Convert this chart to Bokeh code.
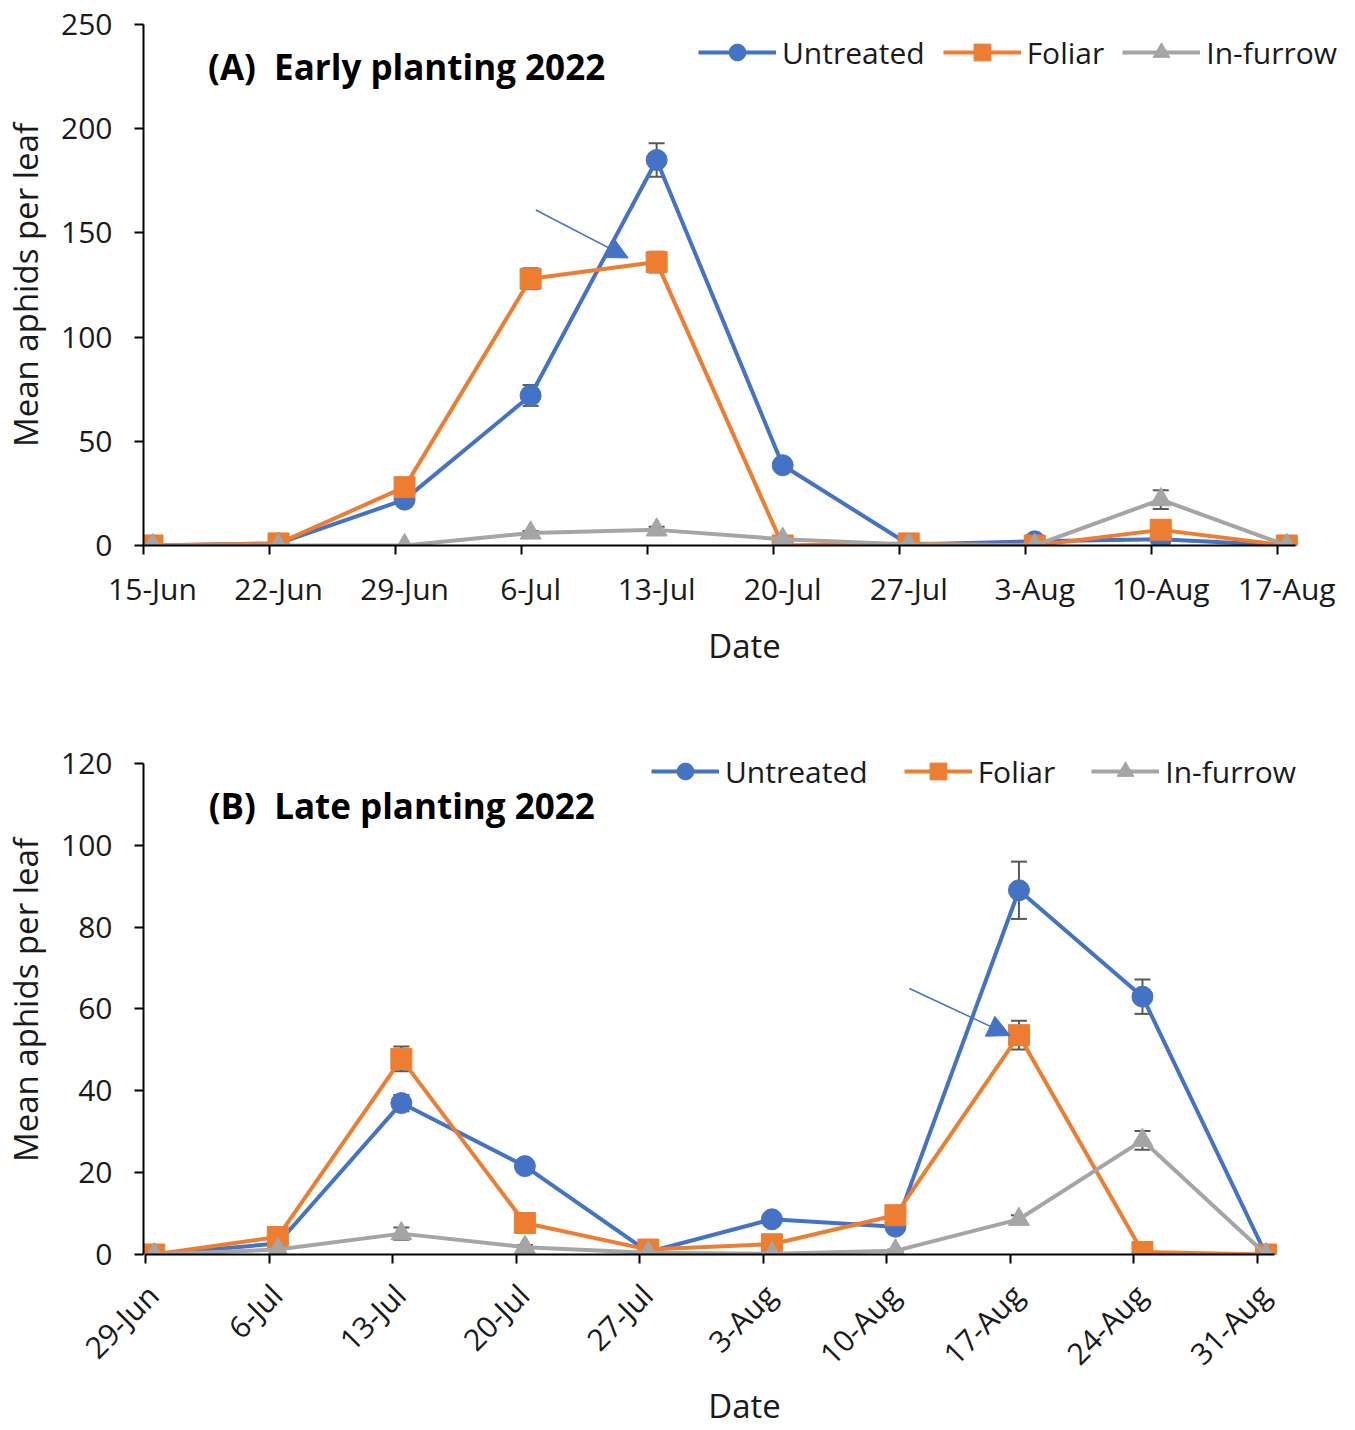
import math
import pandas as pd
from bokeh.plotting import figure
from bokeh.layouts import column
from bokeh.models import (ColumnDataSource, Range1d, FixedTicker, Whisker, TeeHead,
                          Arrow, NormalHead, Label, Legend, LegendItem, DatetimeAxis)
from bokeh.embed import file_html
from bokeh.resources import INLINE

# ---------------- data ----------------
dates_a = ["2022-06-15", "2022-06-22", "2022-06-29", "2022-07-06", "2022-07-13",
           "2022-07-20", "2022-07-27", "2022-08-03", "2022-08-10", "2022-08-17"]
ticks_a = ["15-Jun", "22-Jun", "29-Jun", "6-Jul", "13-Jul", "20-Jul", "27-Jul",
           "3-Aug", "10-Aug", "17-Aug"]
untreated_a = [0, 1, 22, 72, 185, 38.5, 0.5, 2, 3, 0]
untreated_a_se = [0, 0.5, 1.5, 5, 8, 1.5, 0.3, 0.5, 1, 0]
foliar_a = [0, 1, 28, 128, 136, 0, 1, 0, 7.5, 0]
foliar_a_se = [0, 0.5, 1.5, 5, 5, 0.3, 0.5, 0.3, 1.5, 0]
infurrow_a = [0, 0, 0, 6, 7.5, 3, 0.5, 0, 22, 0]
infurrow_a_se = [0, 0, 0, 1, 1.5, 0.5, 0, 0, 4.5, 0]

dates_b = ["2022-06-29", "2022-07-06", "2022-07-13", "2022-07-20", "2022-07-27",
           "2022-08-03", "2022-08-10", "2022-08-17", "2022-08-24", "2022-08-31"]
ticks_b = ["29-Jun", "6-Jul", "13-Jul", "20-Jul", "27-Jul", "3-Aug", "10-Aug",
           "17-Aug", "24-Aug", "31-Aug"]
untreated_b = [0, 2.7, 37, 21.6, 0.6, 8.6, 6.8, 89, 63, 0]
untreated_b_se = [0, 0.5, 2, 1.5, 0.3, 1, 1, 7, 4.2, 0]
foliar_b = [0, 4.3, 47.8, 7.7, 1.2, 2.5, 9.6, 53.6, 0.6, 0]
foliar_b_se = [0, 0.7, 3, 1, 0.3, 0.5, 1, 3.5, 0.3, 0]
infurrow_b = [0, 1.2, 5.1, 1.8, 0.4, 0.2, 0.9, 8.6, 27.9, 0]
infurrow_b_se = [0, 0.3, 1.5, 0.5, 0.1, 0.1, 0.3, 1, 2.3, 0]

series_names = ["Untreated", "Foliar", "In-furrow"]
colors = ["#4472C4", "#ED7D31", "#A5A5A5"]
markers = ["circle", "square", "triangle"]

FONT = "Open Sans"
WIDTH = 1350
FRAME_LEFT = 142
FRAME_RIGHT = 1345
TEXT = "#1a1a1a"


def ms(ts):
    return pd.Timestamp(ts).value / 1e6


def make_panel(dates, ticks, series, errs, ymax, ystep, title, title_pos, arrow,
               height, top_border, frame_h, px_per_unit, px_per_day, axis_offset_px,
               legend_loc, legend_glyph_w, legend_spacing, rotate, label_shift_h):
    x_pos = [pd.Timestamp(d) + pd.Timedelta(hours=12) for d in dates]
    first = pd.Timestamp(dates[0])
    last_end = pd.Timestamp(dates[-1]) + pd.Timedelta(days=1)
    x_start = first - pd.Timedelta(days=axis_offset_px / px_per_day)
    x_end = x_start + pd.Timedelta(days=(FRAME_RIGHT - FRAME_LEFT) / px_per_day)
    y_end = frame_h / px_per_unit
    bottom_border = height - top_border - frame_h
    p = figure(width=WIDTH, height=height, x_axis_type=None,
               x_range=Range1d(x_start, x_end), y_range=Range1d(0, y_end),
               output_backend="svg", toolbar_location=None,
               min_border_left=FRAME_LEFT, min_border_right=WIDTH - FRAME_RIGHT,
               min_border_top=top_border, min_border_bottom=bottom_border)
    p.outline_line_color = None
    p.grid.visible = False
    p.background_fill_color = "white"
    p.border_fill_color = "white"

    # labels centred on each sampling day (major ticks, hidden);
    # visible tick marks at the day boundaries (minor ticks)
    tick_ms = [ms(d) for d in dates]
    lab_ms = [ms(pd.Timestamp(d) + pd.Timedelta(hours=label_shift_h)) for d in dates]
    ax = DatetimeAxis(ticker=FixedTicker(ticks=lab_ms, minor_ticks=tick_ms),
                      bounds=(first, last_end),
                      axis_line_color="black", axis_line_width=2,
                      major_tick_line_color=None, major_tick_in=0, major_tick_out=0,
                      minor_tick_line_color="black", minor_tick_line_width=2,
                      minor_tick_in=0, minor_tick_out=9,
                      major_label_overrides={t: lab for t, lab in zip(lab_ms, ticks)},
                      major_label_text_font=FONT, major_label_text_font_size="30px",
                      major_label_text_color=TEXT,
                      axis_label="Date", axis_label_text_font=FONT,
                      axis_label_text_font_size="33px",
                      axis_label_text_font_style="normal",
                      axis_label_text_color=TEXT)
    if rotate:
        ax.major_label_orientation = math.pi / 4
        ax.major_label_standoff = 26
        ax.axis_label_standoff = -8
    else:
        ax.major_label_standoff = 13
        ax.axis_label_standoff = 11
    p.add_layout(ax, "below")

    p.yaxis.ticker = FixedTicker(ticks=list(range(0, ymax + 1, ystep)))
    p.yaxis.bounds = (0, ymax)
    ay = p.yaxis[0]
    ay.axis_line_color = "black"
    ay.axis_line_width = 2
    ay.major_tick_line_color = "black"
    ay.major_tick_line_width = 2
    ay.major_tick_in = 0
    ay.major_tick_out = 9
    ay.minor_tick_line_color = None
    ay.major_label_text_font = FONT
    ay.major_label_text_font_size = "30px"
    ay.major_label_text_color = TEXT
    ay.axis_label = "Mean aphids per leaf"
    ay.axis_label_text_font = FONT
    ay.axis_label_text_font_size = "33px"
    ay.axis_label_text_font_style = "normal"
    ay.axis_label_text_color = TEXT
    ay.major_label_standoff = 22
    ay.axis_label_standoff = 10

    items = []
    for name, col, mk, vals, se in zip(series_names, colors, markers, series, errs):
        src = ColumnDataSource(dict(x=x_pos, y=vals,
                                    upper=[v + e for v, e in zip(vals, se)],
                                    lower=[max(v - e, 0) for v, e in zip(vals, se)]))
        w = Whisker(base="x", upper="upper", lower="lower", source=src,
                    dimension="height", line_color="#595959", line_width=2,
                    upper_head=TeeHead(size=16, line_color="#595959", line_width=2),
                    lower_head=TeeHead(size=16, line_color="#595959", line_width=2))
        p.add_layout(w)
        lr = p.line("x", "y", source=src, line_color=col, line_width=4)
        sr = p.scatter("x", "y", source=src, marker=mk, size=21,
                       fill_color=col, line_color=col)
        items.append(LegendItem(label=name, renderers=[lr, sr]))

    leg = Legend(items=items, location=legend_loc, orientation="horizontal",
                 background_fill_alpha=0, border_line_color=None, padding=0,
                 glyph_width=legend_glyph_w, glyph_height=42, label_height=42,
                 label_standoff=6, spacing=legend_spacing,
                 label_text_font=FONT, label_text_font_size="30px",
                 label_text_color=TEXT)
    p.add_layout(leg)

    tx, ty = title_pos
    p.add_layout(Label(x=ms(tx), y=ty, text=title, text_font=FONT,
                       text_font_size="35px", text_font_style="bold",
                       text_baseline="middle", text_align="left",
                       text_color="black"))

    (ax0, ay0), (ax1_, ay1) = arrow
    p.add_layout(Arrow(x_start=ms(ax0), y_start=ay0, x_end=ms(ax1_), y_end=ay1,
                       line_color="#4472C4", line_width=1.5,
                       end=NormalHead(size=22, fill_color="#4472C4",
                                      line_color="#4472C4")))
    return p


# panel A: page y 0..690, frame 24..545; 250 units span 521 px
pa = make_panel(dates_a, ticks_a, [untreated_a, foliar_a, infurrow_a],
                [untreated_a_se, foliar_a_se, infurrow_a_se], 250, 50,
                "(A)\u00a0 Early planting 2022", ("2022-06-18 14:00", 230),
                (("2022-07-06 19:00", 161), ("2022-07-11 22:00", 138)),
                690, 24, 521, 521 / 250, 18.02, 0,
                (555, 472), 78, 18, False, 12)

# panel B: page y 690..1430; frame bottom at 1256, 120 units span 493 px
pb = make_panel(dates_b, ticks_b, [untreated_b, foliar_b, infurrow_b],
                [untreated_b_se, foliar_b_se, infurrow_b_se], 120, 20,
                "(B)\u00a0 Late planting 2022", ("2022-07-02 14:00", 109.7),
                (("2022-08-11 07:00", 65), ("2022-08-17 00:00", 53.5)),
                740, 55, 511, 493 / 120, 17.66, 2,
                (508, 462), 68, 36, True, 10)

layout = column(pa, pb, spacing=0)
open("out.html", "w").write(file_html(layout, INLINE))
